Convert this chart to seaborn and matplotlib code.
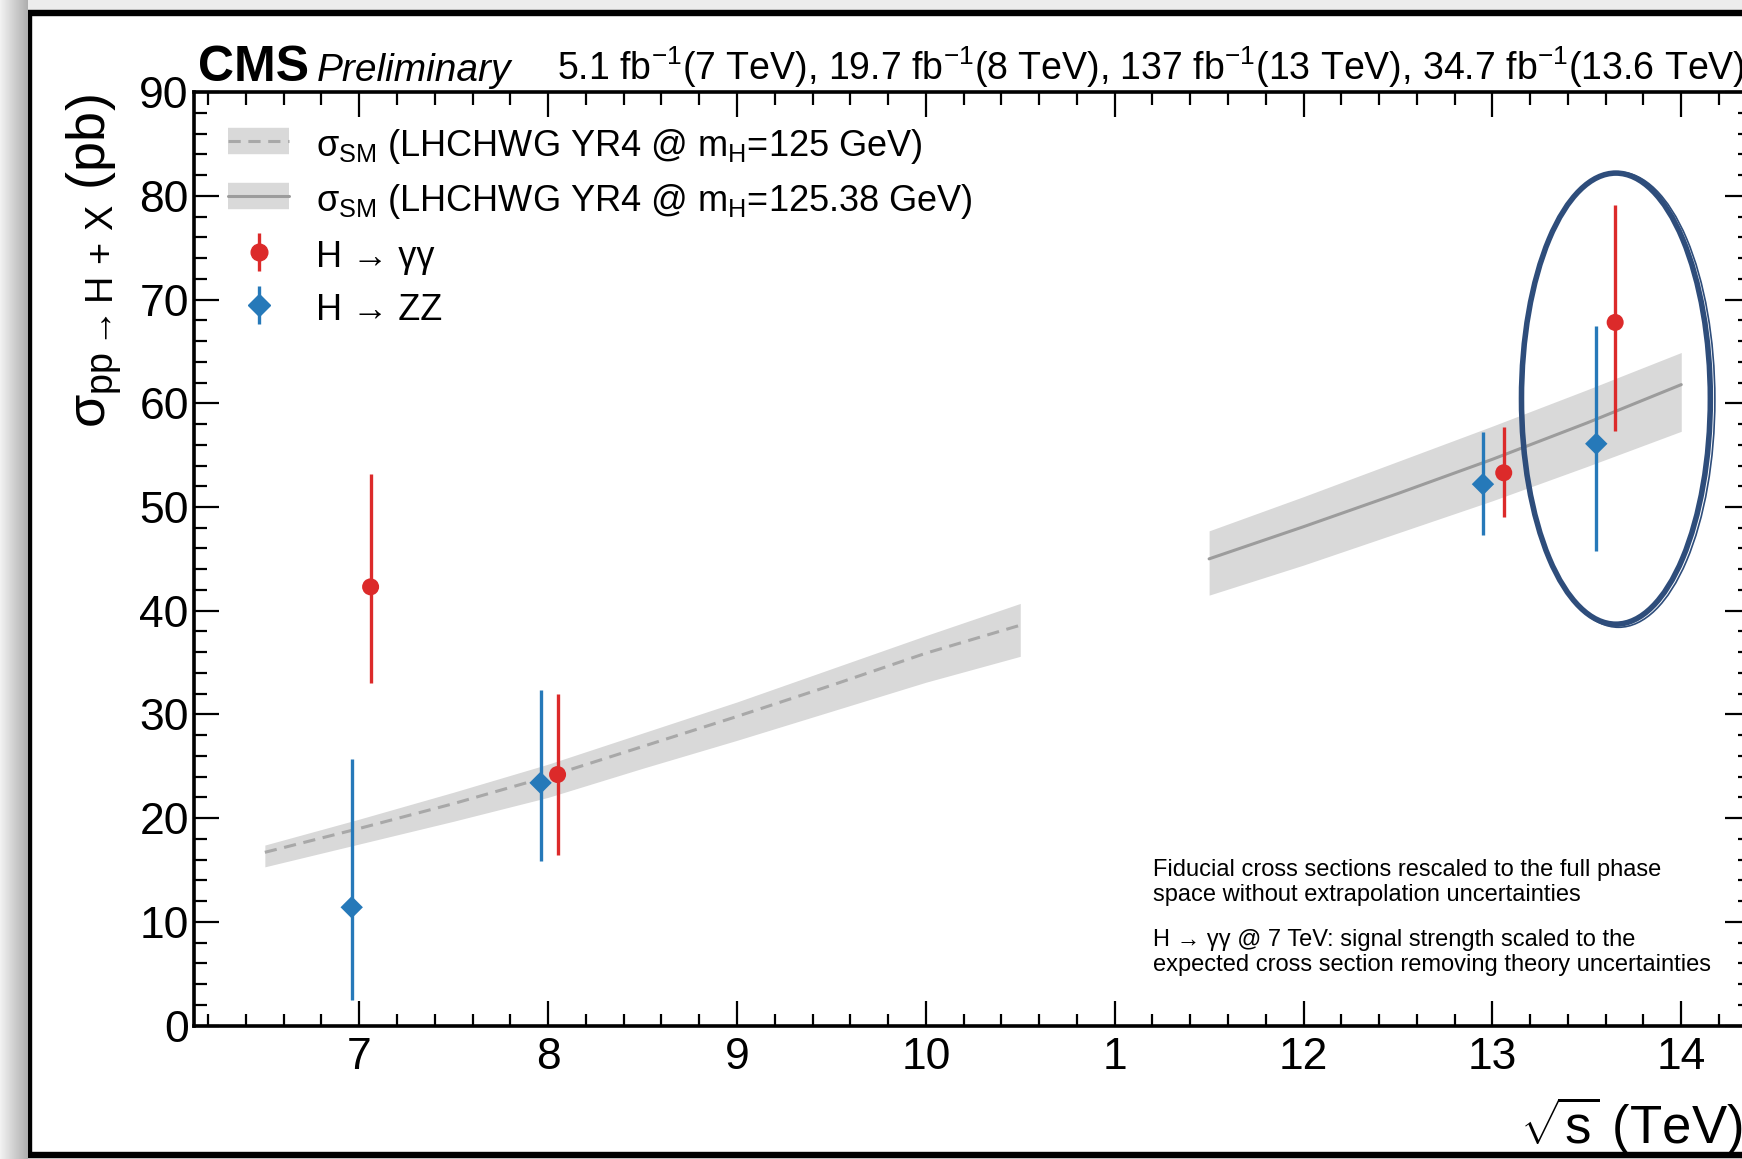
import numpy as np
import pandas as pd
import matplotlib
matplotlib.use("Agg")
import matplotlib.pyplot as plt
import seaborn as sns
from matplotlib.patches import Ellipse, Rectangle
from matplotlib.lines import Line2D
from matplotlib.legend_handler import HandlerTuple

# ---------------- data ----------------
# SM prediction, m_H = 125 GeV (7-10.5 TeV)
sm125_x = [6.5, 7.0, 7.5, 8.0, 8.5, 9.0, 9.5, 10.0, 10.5]
sm125_y = [16.7, 19.0, 21.4, 24.0, 26.9, 29.8, 32.8, 35.9, 38.6]
sm125_lo = [15.3, 17.5, 19.7, 22.0, 24.8, 27.5, 30.3, 33.1, 35.6]
sm125_hi = [17.4, 19.9, 22.5, 25.2, 28.2, 31.2, 34.4, 37.6, 40.7]
# SM prediction, m_H = 125.38 GeV (11.5-14 TeV)
sm1253_x = [11.5, 12.0, 12.5, 13.0, 13.5, 14.0]
sm1253_y = [45.0, 48.1, 51.3, 54.6, 58.1, 61.8]
sm1253_lo = [41.5, 44.4, 47.5, 50.6, 53.9, 57.3]
sm1253_hi = [47.7, 51.0, 54.4, 57.8, 61.3, 64.9]
# H -> gamma gamma
gg_x = [7.06, 8.05, 13.06, 13.65]
gg_y = [42.3, 24.2, 53.3, 67.8]
gg_lo = [33.0, 16.4, 49.0, 57.3]
gg_hi = [53.2, 32.0, 57.7, 79.1]
# H -> ZZ
zz_x = [6.96, 7.96, 12.95, 13.55]
zz_y = [11.4, 23.4, 52.2, 56.1]
zz_lo = [2.5, 15.9, 47.3, 45.8]
zz_hi = [25.7, 32.4, 57.2, 67.5]

xtick_pos = [7, 8, 9, 10, 11, 12, 13, 14]
xtick_labels = ["7", "8", "9", "10", "1", "12", "13", "14"]
ytick_pos = [0, 10, 20, 30, 40, 50, 60, 70, 80, 90]

legend_labels = [
    r"σ$_{\rm SM}$ (LHCHWG YR4 @ m$_{\rm H}$=125 GeV)",
    r"σ$_{\rm SM}$ (LHCHWG YR4 @ m$_{\rm H}$=125.38 GeV)",
    "H → γγ",
    "H → ZZ",
]

# ---------------- style ----------------
sns.set_theme(style="ticks")
plt.rcParams["font.family"] = ["Liberation Sans", "DejaVu Sans"]
plt.rcParams["mathtext.fontset"] = "custom"
plt.rcParams["mathtext.rm"] = "Liberation Sans"
plt.rcParams["mathtext.it"] = "Liberation Sans:italic"
plt.rcParams["mathtext.bf"] = "Liberation Sans:bold"
for k in ["text.color", "axes.labelcolor", "xtick.color", "ytick.color", "axes.edgecolor"]:
    plt.rcParams[k] = "black"

RED = "#dc2a2a"
BLUE = "#2679b9"
BAND = "#d9d9d9"
LINE = "#9c9c9c"
DASH = (0, (4, 2.5))

W, H = 1742, 1159


def fx(px):
    return px / W


def fy(py):
    return 1 - py / H


fig = plt.figure(figsize=(W / 100, H / 100), dpi=100, facecolor="#ececec")

# screenshot frame and left shadow
shadow = fig.add_axes([0, 0, fx(27), 1], zorder=-5)
shadow.imshow(np.linspace(0.95, 0.68, 64)[None, :], cmap="gray", vmin=0, vmax=1,
              aspect="auto", extent=[0, 1, 0, 1])
shadow.axis("off")
frame = Rectangle((fx(29), fy(1155)), fx(1800) - fx(29), fy(13) - fy(1155),
                  transform=fig.transFigure, facecolor="white", edgecolor="black",
                  lw=4.6, zorder=-10)
fig.patches.append(frame)

ax = fig.add_axes([fx(194.4), fy(1025.5), (1750 - 194.4) / W, (1025.5 - 92.2) / H],
                  zorder=2)
ax.set_facecolor("none")

# theory bands
ax.fill_between(sm125_x, sm125_lo, sm125_hi, color=BAND, lw=0, zorder=1)
ax.fill_between(sm1253_x, sm1253_lo, sm1253_hi, color=BAND, lw=0, zorder=1)
sns.lineplot(x=sm125_x, y=sm125_y, ax=ax, color="#a8a8a8", lw=2.2,
             linestyle=DASH, zorder=2)
sns.lineplot(x=sm1253_x, y=sm1253_y, ax=ax, color=LINE, lw=2.2, zorder=2)

# measurements
ax.vlines(gg_x, gg_lo, gg_hi, color=RED, lw=2.4, zorder=3)
ax.vlines(zz_x, zz_lo, zz_hi, color=BLUE, lw=2.4, zorder=3)
df_gg = pd.DataFrame({"x": gg_x, "y": gg_y})
df_zz = pd.DataFrame({"x": zz_x, "y": zz_y})
sns.scatterplot(data=df_gg, x="x", y="y", ax=ax, marker="o", s=150, color=RED,
                edgecolor="none", zorder=4)
sns.scatterplot(data=df_zz, x="x", y="y", ax=ax, marker="D", s=130, color=BLUE,
                edgecolor="none", zorder=4)

# hand-drawn highlight ellipse
ax.add_patch(Ellipse((13.654, 60.45), 1.0, 43.5, fill=False, ec="#2e4d7b",
                     lw=4.0, zorder=6, clip_on=False))
ax.add_patch(Ellipse((13.668, 60.35), 1.02, 43.9, fill=False, ec="#2e4d7b",
                     lw=1.2, zorder=6, clip_on=False))

# axes
ax.set_xlim(6.127, 14.364)
ax.set_ylim(0, 90)
ax.set_xticks(xtick_pos)
ax.set_xticklabels(xtick_labels)
ax.set_yticks(ytick_pos)
ax.set_xticks(np.arange(6.2, 14.35, 0.2), minor=True)
ax.set_yticks(np.arange(0, 90.1, 2), minor=True)
ax.tick_params(which="both", direction="in", top=True, right=True, width=1.6,
               color="black")
ax.tick_params(which="major", length=18, labelsize=32, pad=8)
ax.tick_params(which="minor", length=9)
ax.tick_params(axis="y", which="major", pad=4)
for sp in ax.spines.values():
    sp.set_linewidth(2.6)
    sp.set_color("black")
ax.set_xlabel("")
ax.set_ylabel("")

# legend
h1 = (Line2D([], [], color=BAND, lw=19, solid_capstyle="butt"),
      Line2D([], [], color="#a8a8a8", lw=2.2, linestyle=DASH))
h2 = (Line2D([], [], color=BAND, lw=19, solid_capstyle="butt"),
      Line2D([], [], color=LINE, lw=2.2))
h3 = (Line2D([], [], color=RED, marker="|", ms=28, mew=2.4, ls="none"),
      Line2D([], [], color=RED, marker="o", ms=12, ls="none"))
h4 = (Line2D([], [], color=BLUE, marker="|", ms=28, mew=2.4, ls="none"),
      Line2D([], [], color=BLUE, marker="D", ms=11, ls="none"))
ax.legend([h1, h2, h3, h4], legend_labels,
          handler_map={tuple: HandlerTuple(ndivide=1, pad=0)},
          loc="upper left", bbox_to_anchor=(fx(228), fy(126)),
          bbox_transform=fig.transFigure, frameon=False, fontsize=26,
          handlelength=1.7, handleheight=1.1, labelspacing=0.44,
          handletextpad=0.75, borderpad=0, borderaxespad=0)

# header
fig.text(fx(198), fy(81), "CMS", weight="bold", size=36, va="baseline")
fig.text(fx(317), fy(81), "Preliminary", style="italic", size=28, va="baseline")
fig.text(fx(557), fy(80),
         r"5.1 fb$^{-1}$(7 TeV), 19.7 fb$^{-1}$(8 TeV), 137 fb$^{-1}$(13 TeV), "
         r"34.7 fb$^{-1}$(13.6 TeV)", size=27, va="baseline")

# axis titles
fig.text(fx(94), fy(94), r"σ$_{\rm pp\,→\,H\,+\,X}$ (pb)", rotation=90,
         ha="center", va="top", size=39)
fig.text(fx(1520), fy(1144), r"$\sqrt{\rm s}$ (TeV)", size=38, va="baseline")

# notes
fig.text(fx(1153), fy(859),
         "Fiducial cross sections rescaled to the full phase\n"
         "space without extrapolation uncertainties",
         size=17, va="top", linespacing=1.18)
fig.text(fx(1153), fy(929),
         "H → γγ @ 7 TeV: signal strength scaled to the\n"
         "expected cross section removing theory uncertainties",
         size=17, va="top", linespacing=1.18)

fig.savefig("out.png", dpi=100, facecolor=fig.get_facecolor())
